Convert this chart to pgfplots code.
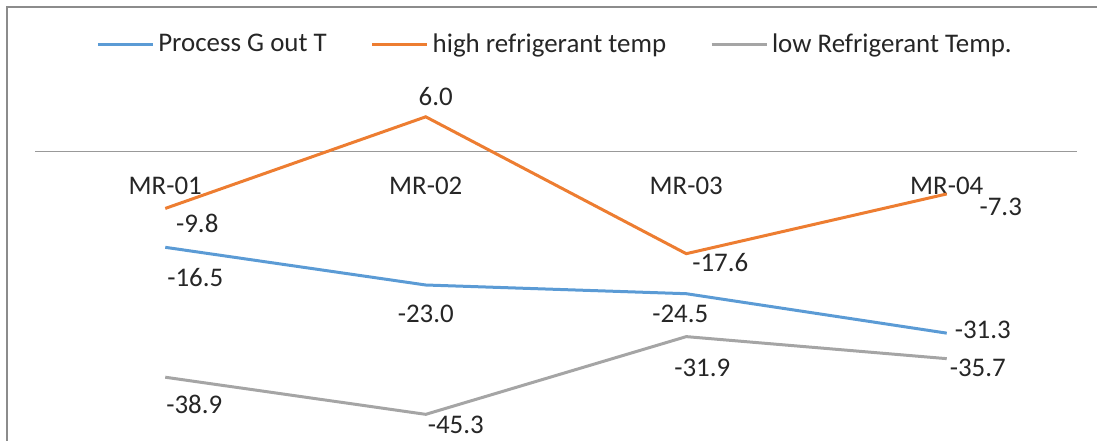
\documentclass[border=0pt]{standalone}
\usepackage{pgfplots}
\usepackage{pgfplotstable}
\pgfplotsset{compat=1.18}
\usepackage{fontspec}
\setmainfont{Carlito}
\definecolor{sblue}{HTML}{5B9BD5}
\definecolor{sorange}{HTML}{ED7D31}
\definecolor{sgray}{HTML}{A5A5A5}
\definecolor{framegray}{HTML}{8C8C8C}
\definecolor{axgray}{HTML}{999999}
\definecolor{txt}{HTML}{262626}

\pgfplotstableread{
x y lab dx dy
0 -16.5 -16.5 15 -15
1 -23.0 -23.0 0 -14.5
2 -24.5 -24.5 -3 -10
3 -31.3 -31.3 18 1.5
}\tblue
\pgfplotstableread{
x y lab dx dy
0 -9.8 -9.8 16 -7.5
1 6.0 6.0 5 10
2 -17.6 -17.6 17 -4.5
3 -7.3 -7.3 27 -6.5
}\torange
\pgfplotstableread{
x y lab dx dy
0 -38.9 -38.9 14.5 -13.5
1 -45.3 -45.3 15 -5.5
2 -31.9 -31.9 8 -15.5
3 -35.7 -35.7 15.5 -4.5
}\tgray

\begin{document}
\begin{tikzpicture}
\useasboundingbox (-17.5bp,-5.5bp) rectangle (531bp,215bp);
\draw[framegray, line width=0.75bp] (-14bp,-20bp) -- (-14bp,211.5bp) -- (560bp,211.5bp);
\begin{axis}[
  at={(0,0)}, anchor=south west,
  scale only axis,
  width=521bp, height=179.8bp,
  xmin=-0.5, xmax=3.5, ymin=-48, ymax=14,
  enlargelimits=false,
  clip=false,
  axis x line=middle,
  axis y line=none,
  x axis line style={-, draw=axgray, line width=0.6bp},
  xtick={0,1,2,3},
  xticklabels={MR-01,MR-02,MR-03,MR-04},
  xtick style={draw=none},
  major tick length=0pt,
  xticklabel style={anchor=center, yshift=-17bp, font=\fontsize{13.5}{16}\selectfont, text=txt},
  ytick=\empty,
  nodes near coords={\pgfplotspointmeta},
  point meta=explicit symbolic,
  visualization depends on={\thisrow{dx} \as \lblx},
  visualization depends on={\thisrow{dy} \as \lbly},
  every node near coord/.append style={anchor=center, xshift=\lblx bp, yshift=\lbly bp, font=\fontsize{13.5}{16}\selectfont, text=txt, inner sep=0pt},
  legend columns=3,
  legend style={draw=none, fill=none, at={(0.5,1.072)}, anchor=center,
    font=\fontsize{13.5}{16}\selectfont, text=txt,
    /tikz/every even column/.append style={column sep=20bp}},
  legend image code/.code={\draw[#1] (0bp,0bp) -- (27.5bp,0bp);},
]
\addplot[sblue, line width=1.5bp, mark=none] table[x=x, y=y, meta=lab] {\tblue};
\addlegendentry{Process G out T}
\addplot[sorange, line width=1.5bp, mark=none] table[x=x, y=y, meta=lab] {\torange};
\addlegendentry{high refrigerant temp}
\addplot[sgray, line width=1.5bp, mark=none] table[x=x, y=y, meta=lab] {\tgray};
\addlegendentry{low Refrigerant Temp.}
\end{axis}
\end{tikzpicture}
\end{document}
